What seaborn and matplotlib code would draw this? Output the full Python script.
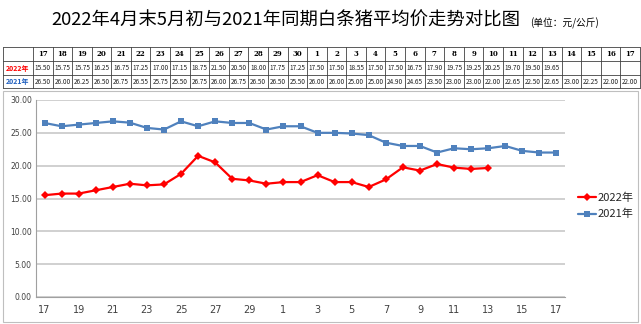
import numpy as np
import pandas as pd
import matplotlib
matplotlib.use("Agg")
import matplotlib.pyplot as plt
from matplotlib.patches import Rectangle
import seaborn as sns

# Day labels: 17 Apr .. 30 Apr, then 1 May .. 17 May
days = [17, 18, 19, 20, 21, 22, 23, 24, 25, 26, 27, 28, 29, 30,
        1, 2, 3, 4, 5, 6, 7, 8, 9, 10, 11, 12, 13, 14, 15, 16, 17]
price_2022 = [15.50, 15.75, 15.75, 16.25, 16.75, 17.25, 17.00, 17.15, 18.75,
              21.50, 20.50, 18.00, 17.75, 17.25, 17.50, 17.50, 18.55, 17.50,
              17.50, 16.75, 17.90, 19.75, 19.25, 20.25, 19.70, 19.50, 19.65]
price_2021 = [26.50, 26.00, 26.25, 26.50, 26.75, 26.55, 25.75, 25.50, 26.75,
              26.00, 26.75, 26.50, 26.50, 25.50, 26.00, 26.00, 25.00, 25.00,
              24.90, 24.65, 23.50, 23.00, 23.00, 22.00, 22.65, 22.50, 22.65,
              23.00, 22.25, 22.00, 22.00]
series_names = ["2022年", "2021年"]
series_colors = ["#FF0000", "#4F81BD"]
title = "2022年4月末5月初与2021年同期白条猪平均价走势对比图"
unit = "(单位：元/公斤)"
y_ticks = [0, 5, 10, 15, 20, 25, 30]

sns.set_theme(style="white")
plt.rcParams["font.family"] = ["Noto Sans CJK SC", "DejaVu Sans"]

W, H = 641, 324
fig = plt.figure(figsize=(W / 100, H / 100), dpi=100)

# overlay in pixel units for the frame, title and data table
ov = fig.add_axes([0, 0, 1, 1])
ov.set_xlim(0, W)
ov.set_ylim(H, 0)
ov.axis("off")

ov.text(286, 21, title, ha="center", va="center", fontsize=13.2, color="#000000")
ov.text(530, 23, unit, ha="left", va="center", fontsize=7, color="#000000")

# chart frame
ov.add_patch(Rectangle((3, 91), 635, 231, fill=False, edgecolor="#BFBFBF", lw=0.8))

# data table
tx0, tx1 = 3, 640
label_w = 30
col_w = (tx1 - tx0 - label_w) / len(days)
rows_y = [47, 61, 75, 88]
for yy in rows_y:
    ov.plot([tx0, tx1], [yy, yy], color="#404040", lw=0.6)
xs_lines = [tx0, tx0 + label_w] + [tx0 + label_w + (i + 1) * col_w for i in range(len(days))]
for xx in xs_lines:
    ov.plot([xx, xx], [rows_y[0], rows_y[-1]], color="#404040", lw=0.6)

ov.text(tx0 + label_w / 2, (rows_y[1] + rows_y[2]) / 2, series_names[0],
        ha="center", va="center", fontsize=5, color=series_colors[0], fontweight="bold")
ov.text(tx0 + label_w / 2, (rows_y[2] + rows_y[3]) / 2, series_names[1],
        ha="center", va="center", fontsize=5, color="#1F5FBF", fontweight="bold")
for i, d in enumerate(days):
    cx = tx0 + label_w + (i + 0.5) * col_w
    ov.text(cx, (rows_y[0] + rows_y[1]) / 2, str(d), ha="center", va="center",
            fontsize=5, fontweight="bold", color="#000000", family="DejaVu Serif")
    if i < len(price_2022):
        ov.text(cx, (rows_y[1] + rows_y[2]) / 2, f"{price_2022[i]:.2f}", ha="center",
                va="center", fontsize=4.6, color="#202020")
    ov.text(cx, (rows_y[2] + rows_y[3]) / 2, f"{price_2021[i]:.2f}", ha="center",
            va="center", fontsize=4.6, color="#202020")

# line chart
left, right, top, bottom = 36, 565, 100, 297
ax = fig.add_axes([left / W, (H - bottom) / H, (right - left) / W, (bottom - top) / H])

df = pd.concat([
    pd.DataFrame({"pos": np.arange(len(price_2022)), "price": price_2022, "year": series_names[0]}),
    pd.DataFrame({"pos": np.arange(len(price_2021)), "price": price_2021, "year": series_names[1]}),
])
sns.lineplot(data=df, x="pos", y="price", hue="year", style="year",
             palette=dict(zip(series_names, series_colors)),
             markers={series_names[0]: "D", series_names[1]: "s"},
             dashes=False, ax=ax, lw=1.6, markersize=4.2, markeredgewidth=0)

ax.set_xlim(-0.5, len(days) - 0.5)
ax.set_ylim(0, 30)
ax.set_yticks(y_ticks)
ax.set_yticklabels([f"{v:.2f}" for v in y_ticks], fontsize=5.5, family="DejaVu Sans", color="#404040")
ax.yaxis.grid(True, color="#C8C8C8", lw=1.2)
ax.xaxis.grid(False)
ax.set_xticks(np.arange(0, len(days), 2))
ax.set_xticklabels([str(days[i]) for i in range(0, len(days), 2)], fontsize=7,
                   family="DejaVu Sans", color="#404040")
ax.set_xticks(np.arange(-0.5, len(days), 1), minor=True)
ax.tick_params(axis="x", which="major", length=0, pad=6)
ax.tick_params(axis="x", which="minor", length=4, color="#A0A0A0", width=0.8, direction="out")
ax.tick_params(axis="y", length=0, pad=3)
ax.set_xlabel("")
ax.set_ylabel("")
for s in ["top", "right"]:
    ax.spines[s].set_visible(False)
for s in ["left", "bottom"]:
    ax.spines[s].set_color("#A0A0A0")
    ax.spines[s].set_linewidth(0.8)
ax.set_facecolor("white")

handles, labels = ax.get_legend_handles_labels()
fig.legend(handles, labels, loc="center left", bbox_to_anchor=(578 / W, (H - 206) / H),
           frameon=False, fontsize=8, handlelength=1.6, handletextpad=0.15,
           labelspacing=0.55, borderpad=0, borderaxespad=0)
if ax.get_legend():
    ax.get_legend().remove()

fig.savefig("out.png", dpi=100, facecolor="white")
